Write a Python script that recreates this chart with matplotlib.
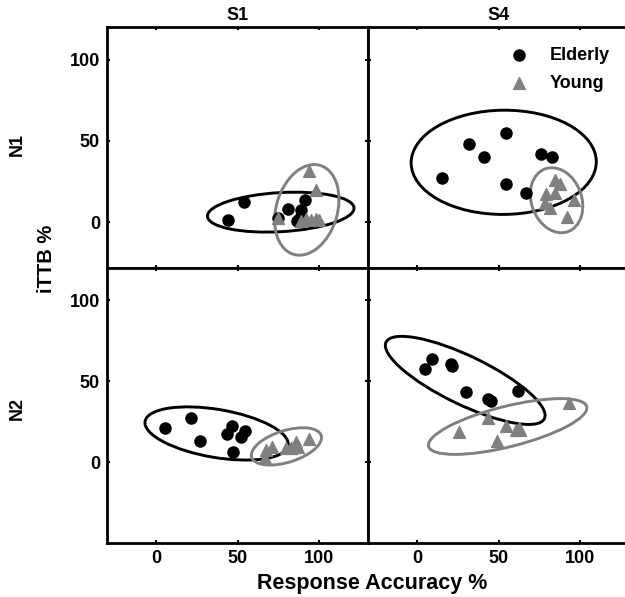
import numpy as np
import matplotlib.pyplot as plt
from matplotlib.patches import Ellipse

plt.rcParams['font.family'] = ['Liberation Sans', 'DejaVu Sans']
plt.rcParams['font.weight'] = 'bold'

# panel order: S1-N1, S4-N1, S1-N2, S4-N2
col_titles = ['S1', 'S4']
row_titles = ['N1', 'N2']
ticks = [0, 50, 100]

# Elderly (response accuracy %, iTTB %)
eld_x_s1n1 = [44.2, 54.0, 74.8, 81.0, 91.4, 89.0, 87.7, 86.7]
eld_y_s1n1 = [1.2, 12.7, 2.6, 8.0, 13.5, 7.4, 1.8, 0.8]
eld_x_s4n1 = [15.5, 32.1, 41.3, 54.5, 54.5, 66.8, 75.8, 83.0]
eld_y_s4n1 = [27.0, 48.0, 40.3, 54.8, 23.5, 17.8, 42.1, 40.1]
eld_x_s1n2 = [5.3, 21.7, 27.0, 46.8, 43.4, 54.6, 52.0, 47.4]
eld_y_s1n2 = [21.0, 27.3, 13.0, 22.4, 17.1, 19.1, 15.6, 6.0]
eld_x_s4n2 = [9.4, 4.7, 20.8, 21.4, 30.0, 43.3, 45.6, 61.9]
eld_y_s4n2 = [63.8, 57.8, 60.9, 59.5, 43.2, 39.1, 37.5, 44.0]

# Young
yng_x_s1n1 = [93.9, 98.0, 74.8, 88.8, 91.8, 94.9, 98.0, 100.0]
yng_y_s1n1 = [31.5, 19.8, 2.6, 0.8, 1.8, 1.4, 2.2, 1.2]
yng_x_s4n1 = [84.8, 87.9, 79.3, 84.4, 78.7, 81.3, 96.5, 92.0]
yng_y_s4n1 = [25.8, 23.7, 17.2, 18.2, 12.1, 9.0, 13.5, 3.3]
yng_x_s1n2 = [66.7, 71.0, 86.1, 93.9, 82.6, 87.3, 67.3, 79.6]
yng_y_s1n2 = [2.3, 9.4, 12.5, 14.2, 8.5, 9.4, 7.4, 8.8]
yng_x_s4n2 = [25.5, 43.3, 54.8, 62.8, 63.4, 49.0, 93.4, 60.9]
yng_y_s4n2 = [18.7, 27.3, 22.2, 20.8, 19.8, 13.1, 36.6, 19.8]

# ellipses: centre x, centre y, width, height, angle (deg)
eld_ell = [(76.5, 6.3, 90.0, 24.0, 3.3),
           (53.2, 36.9, 113.5, 64.0, 0.5),
           (37.2, 17.7, 89.0, 29.7, -9.7),
           (29.6, 50.5, 108.0, 30.0, -26.0)]
yng_ell = [(92.5, 7.7, 37.5, 57.0, -16.6),
           (85.6, 13.6, 30.8, 41.0, 20.0),
           (80.0, 9.7, 44.7, 19.6, 17.6),
           (55.6, 22.0, 100.0, 25.0, 14.2)]

eld_x = [eld_x_s1n1, eld_x_s4n1, eld_x_s1n2, eld_x_s4n2]
eld_y = [eld_y_s1n1, eld_y_s4n1, eld_y_s1n2, eld_y_s4n2]
yng_x = [yng_x_s1n1, yng_x_s4n1, yng_x_s1n2, yng_x_s4n2]
yng_y = [yng_y_s1n1, yng_y_s4n1, yng_y_s1n2, yng_y_s4n2]

gray = '#808080'

fig = plt.figure(figsize=(6.25, 5.97), dpi=100)
positions = [[0.1712, 0.5511, 0.4176, 0.4037],
             [0.5888, 0.5511, 0.4176, 0.4037],
             [0.1712, 0.0905, 0.4176, 0.4606],
             [0.5888, 0.0905, 0.4176, 0.4606]]
ylims = [(-28, 120), (-28, 120), (-50, 120), (-50, 120)]

axes = []
for i in range(4):
    ax = fig.add_axes(positions[i])
    axes.append(ax)
    r, c = divmod(i, 2)
    e = Ellipse(eld_ell[i][:2], eld_ell[i][2], eld_ell[i][3], angle=eld_ell[i][4],
                fill=False, ec='black', lw=2.1, zorder=2)
    ax.add_patch(e)
    g = Ellipse(yng_ell[i][:2], yng_ell[i][2], yng_ell[i][3], angle=yng_ell[i][4],
                fill=False, ec=gray, lw=2.1, zorder=2)
    ax.add_patch(g)
    h1 = ax.scatter(eld_x[i], eld_y[i], s=64, c='black', marker='o', zorder=3, label='Elderly')
    h2 = ax.scatter(yng_x[i], yng_y[i], s=72, c=gray, marker='^', zorder=4, label='Young')
    ax.set_xlim(-30, 130)
    ax.set_ylim(*ylims[i])
    ax.set_xticks(ticks)
    ax.set_yticks(ticks)
    ax.tick_params(direction='in', length=2.5, width=1.5, top=True, right=True,
                   labelsize=13, pad=5)
    for sp in ax.spines.values():
        sp.set_linewidth(2)
    if c == 1:
        ax.set_yticklabels([])
    if r == 0:
        ax.set_xticklabels([])
        ax.set_title(col_titles[c], fontsize=13, fontweight='bold', pad=5)
    if i == 1:
        ax.legend(handles=[h1, h2], loc='upper left', bbox_to_anchor=(0.446, 0.984),
                  frameon=False, fontsize=13, handletextpad=0.7, labelspacing=0.6,
                  scatterpoints=1)

fig.text(0.028, 1 - 145 / 597, row_titles[0], rotation=90, ha='center', va='center',
         fontsize=13, fontweight='bold')
fig.text(0.028, 1 - 409 / 597, row_titles[1], rotation=90, ha='center', va='center',
         fontsize=13, fontweight='bold')
fig.text(0.075, 1 - 259 / 597, 'iTTB %', rotation=90, ha='center', va='center',
         fontsize=14.5, fontweight='bold')
fig.text(0.595, 1 - 583 / 597, 'Response Accuracy %', ha='center', va='center',
         fontsize=15.5, fontweight='bold')

fig.savefig('out.png', dpi=100)
